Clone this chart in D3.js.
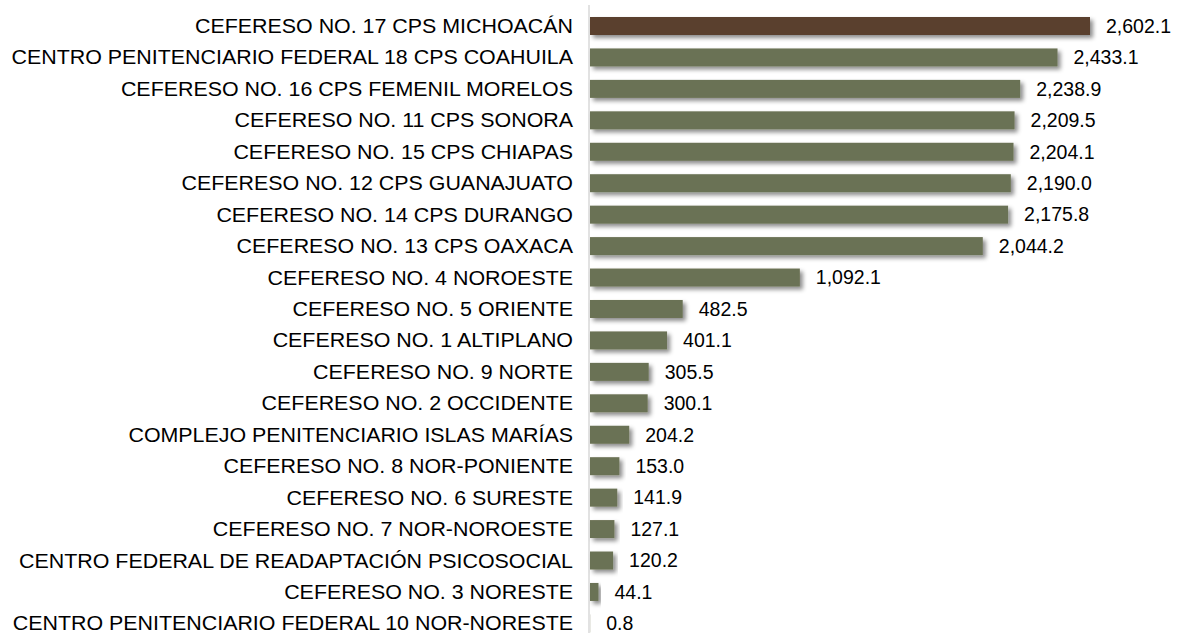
<!DOCTYPE html>
<html>
<head>
<meta charset="utf-8">
<script src="https://cdn.jsdelivr.net/npm/d3@7"></script>
<style>
  body { margin: 0; background: #fff; }
  svg { display: block; font-family: "Liberation Sans", Arial, sans-serif; }
</style>
</head>
<body>
<svg id="chart"></svg>
<script>
// categorias (de arriba hacia abajo)
const categories = [
  "CEFERESO NO. 17 CPS MICHOACÁN",
  "CENTRO PENITENCIARIO FEDERAL 18 CPS COAHUILA",
  "CEFERESO NO. 16 CPS FEMENIL MORELOS",
  "CEFERESO NO. 11 CPS SONORA",
  "CEFERESO NO. 15 CPS CHIAPAS",
  "CEFERESO NO. 12 CPS GUANAJUATO",
  "CEFERESO NO. 14 CPS DURANGO",
  "CEFERESO NO. 13 CPS OAXACA",
  "CEFERESO NO. 4 NOROESTE",
  "CEFERESO NO. 5 ORIENTE",
  "CEFERESO NO. 1 ALTIPLANO",
  "CEFERESO NO. 9 NORTE",
  "CEFERESO NO. 2 OCCIDENTE",
  "COMPLEJO PENITENCIARIO ISLAS MARÍAS",
  "CEFERESO NO. 8 NOR-PONIENTE",
  "CEFERESO NO. 6 SURESTE",
  "CEFERESO NO. 7 NOR-NOROESTE",
  "CENTRO FEDERAL DE READAPTACIÓN PSICOSOCIAL",
  "CEFERESO NO. 3 NORESTE",
  "CENTRO PENITENCIARIO FEDERAL 10 NOR-NORESTE"
];
const values = [
  2602.1, 2433.1, 2238.9, 2209.5, 2204.1, 2190.0, 2175.8, 2044.2, 1092.1, 482.5,
  401.1, 305.5, 300.1, 204.2, 153.0, 141.9, 127.1, 120.2, 44.1, 0.8
];
const highlight = "CEFERESO NO. 17 CPS MICHOACÁN";

const width = 1180, height = 633;
const x0 = 589;
const barH = 18;

const svg = d3.select("#chart").attr("width", width).attr("height", height);

// sombra de las barras
const f = svg.append("defs").append("filter").attr("id", "shadow")
  .attr("x", "-10%").attr("y", "-40%").attr("width", "130%").attr("height", "200%");
f.append("feDropShadow")
  .attr("dx", 3).attr("dy", 3).attr("stdDeviation", 2)
  .attr("flood-color", "#000").attr("flood-opacity", 0.45);

const x = d3.scaleLinear().domain([0, 2602.1]).range([x0 + 1, 1090]);
const y = d3.scalePoint().domain(categories).range([26, 623.4]);

const data = categories.map((c, i) => ({ cat: c, val: values[i] }));
const fmt = d3.format(",.1f");

// eje vertical
svg.append("line")
  .attr("x1", x0).attr("x2", x0)
  .attr("y1", 5).attr("y2", height)
  .attr("stroke", "#d9d9d9").attr("stroke-width", 1.5);

svg.append("g").selectAll("rect")
  .data(data)
  .join("rect")
  .attr("x", x(0))
  .attr("y", d => y(d.cat) - barH / 2)
  .attr("width", d => x(d.val) - x(0))
  .attr("height", barH)
  .attr("fill", d => d.cat === highlight ? "#5a412e" : "#6b7254")
  .attr("filter", "url(#shadow)");

// etiquetas de categoria (un poco estiradas a lo ancho, como en el original)
svg.append("g")
  .attr("transform", "translate(573,0) scale(1.07,1)")
  .selectAll("text")
  .data(data)
  .join("text")
  .attr("x", 0)
  .attr("y", d => y(d.cat))
  .attr("dy", "0.35em")
  .attr("text-anchor", "end")
  .attr("font-size", 20)
  .attr("fill", "#000")
  .text(d => d.cat);

// valores
svg.append("g").selectAll("text")
  .data(data)
  .join("text")
  .attr("x", d => x(d.val) + 16)
  .attr("y", d => y(d.cat))
  .attr("dy", "0.35em")
  .attr("font-size", 19.5)
  .attr("fill", "#000")
  .text(d => fmt(d.val));
</script>
</body>
</html>
